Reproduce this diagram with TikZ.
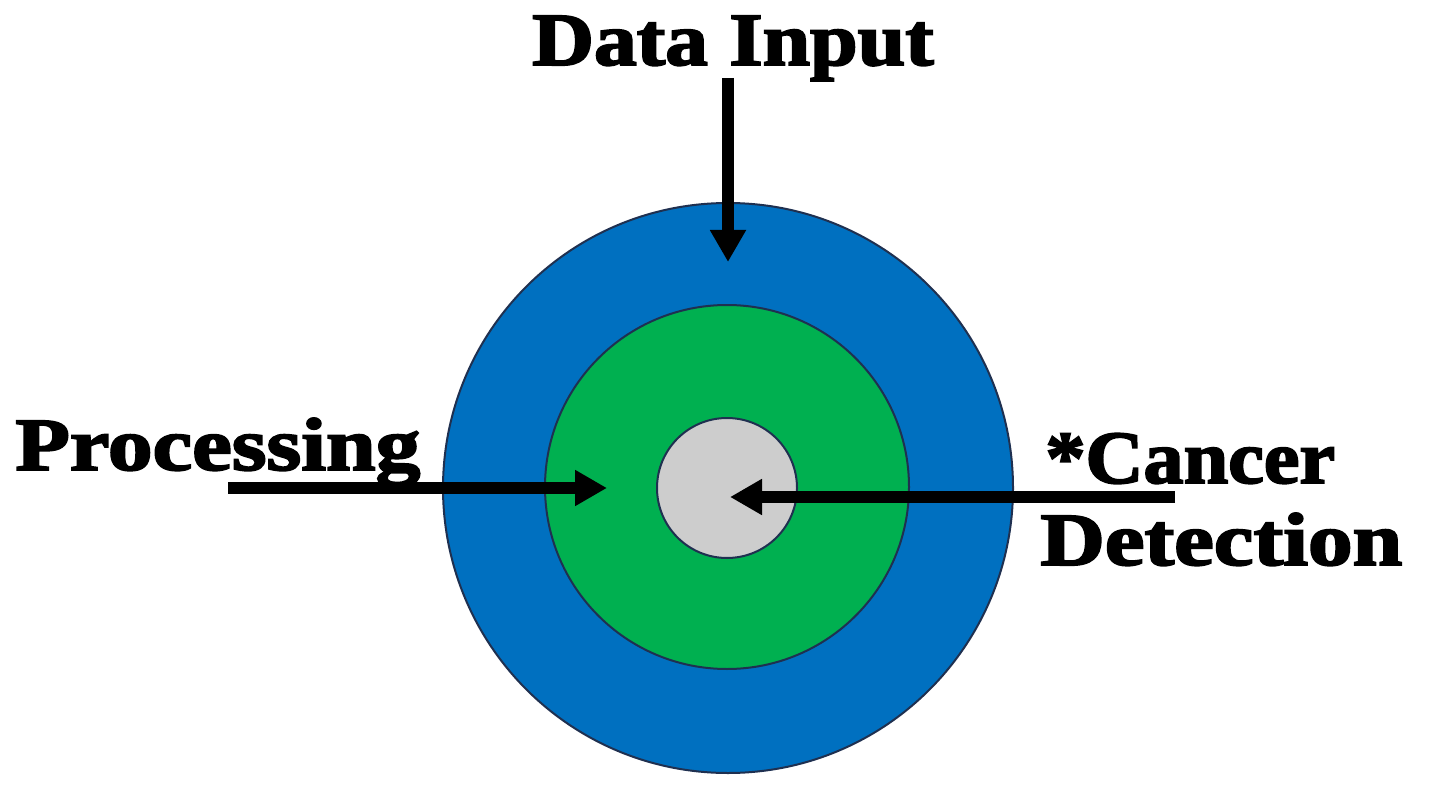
\documentclass[tikz,border=0pt]{standalone}
\usepackage{fontspec}
\setmainfont{Liberation Serif}[BoldFeatures={FakeBold=2.5}]
\usetikzlibrary{arrows.meta}
\definecolor{ringblue}{HTML}{0070C0}
\definecolor{ringgreen}{HTML}{00B050}
\definecolor{coregray}{HTML}{CDCDCD}
\definecolor{ringedge}{HTML}{1F3050}
\tikzset{
  ring/.style={circle, draw=ringedge, line width=1pt, inner sep=0pt},
  lbl/.style={inner sep=0pt, font=\fontsize{37.5}{45}\selectfont\bfseries},
  bigarrow/.style={line width=6pt, -{Triangle[width=17pt,length=16pt]}}
}
\begin{document}
\begin{tikzpicture}[x=0.5pt,y=-0.5pt]
\useasboundingbox (0,0) rectangle (1429,791);
\node[ring, fill=ringblue, minimum size=285pt] (outer) at (728,488) {};
\node[ring, fill=ringgreen, minimum size=182pt] (mid) at (727,487) {};
\node[ring, fill=coregray, minimum size=70pt] (core) at (727,488) {};
\node[lbl, anchor=base] (din) at (733,65) {\scalebox{1.14}[1]{Data Input}};
\node[lbl, anchor=base west] (proc) at (15,470) {\scalebox{1.19}[1]{Processing}};
\node[lbl, anchor=base west] (canc) at (1045,483) {\scalebox{1.07}[1]{*Cancer}};
\node[lbl, anchor=base west] (det) at (1040,565) {\scalebox{1.19}[1]{Detection}};
\coordinate (dinS) at (728,78);
\coordinate (dinE) at (728,262);
\coordinate (procS) at (228,488);
\coordinate (procE) at (607,488);
\coordinate (cancS) at (1175,497);
\coordinate (cancE) at (730,497);
\draw[bigarrow] (dinS) -- (dinE);
\draw[bigarrow] (procS) -- (procE);
\draw[bigarrow] (cancS) -- (cancE);
\end{tikzpicture}
\end{document}
